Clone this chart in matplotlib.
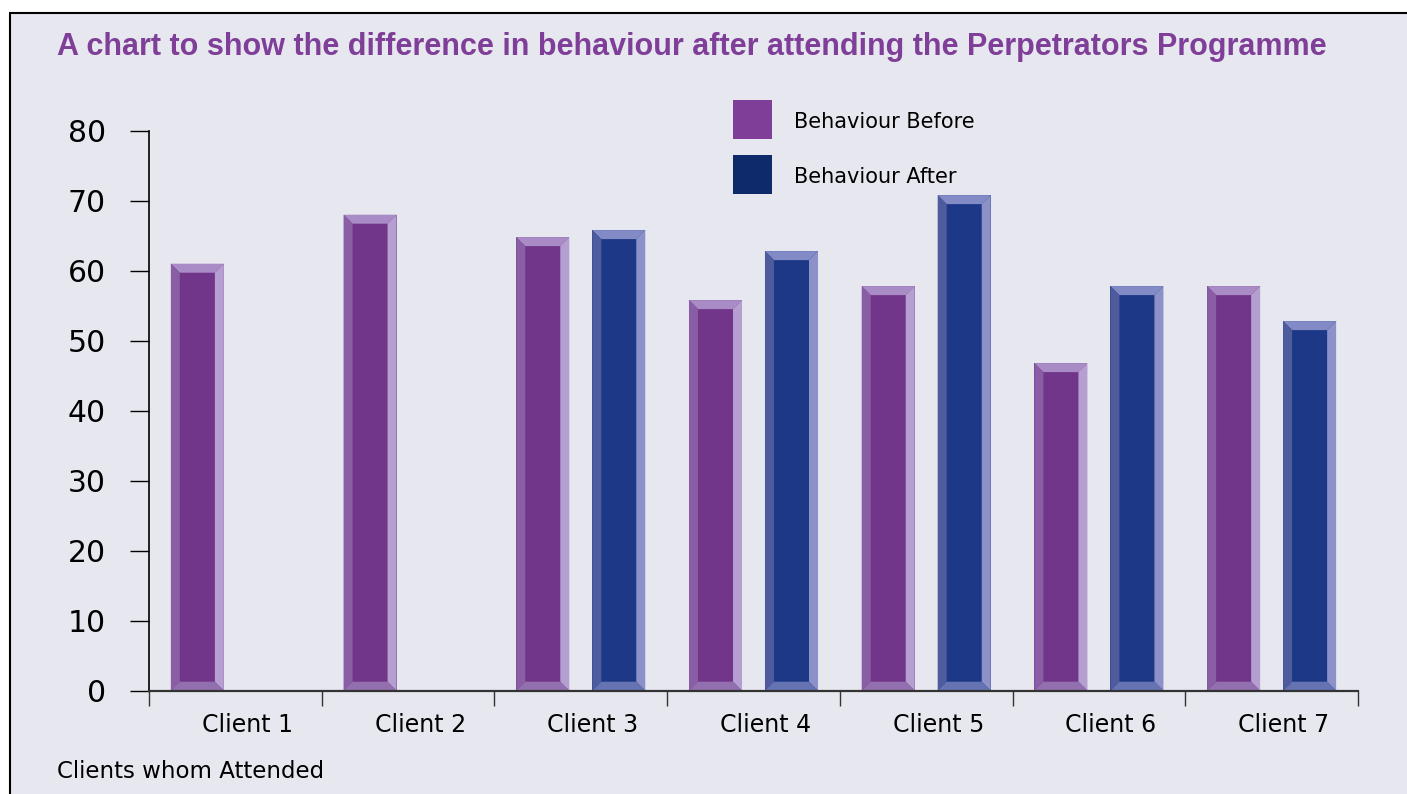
import matplotlib
matplotlib.use("Agg")
import matplotlib.pyplot as plt
from matplotlib.patches import Rectangle, Polygon
from matplotlib.transforms import ScaledTranslation
import numpy as np

clients = ["Client 1", "Client 2", "Client 3", "Client 4", "Client 5", "Client 6", "Client 7"]
before = [61, 68, 64.8, 55.8, 57.8, 46.8, 57.8]
after = [0, 0, 65.8, 62.8, 70.8, 57.8, 52.8]
yticks = [0, 10, 20, 30, 40, 50, 60, 70, 80]
title = "A chart to show the difference in behaviour after attending the Perpetrators Programme"
xlabel = "Clients whom Attended"
legend_labels = ["Behaviour Before", "Behaviour After"]
legend_colors = ["#7F3F98", "#0F2A6B"]

W, H = 1407, 794
plt.rcParams["font.family"] = ["DejaVu Sans"]
fig = plt.figure(figsize=(W / 100, H / 100), dpi=100, facecolor="white")

# background panel with border
fig.add_artist(Rectangle((10 / W, -0.05), 1.2, 1 - 13 / H + 0.05, transform=fig.transFigure,
                         facecolor="#E7E7F0", edgecolor="black", linewidth=1.5, zorder=0))

ax = fig.add_axes([149 / W, 1 - 690.7 / H, (1358 - 149) / W, (690.7 - 130.7) / H])
ax.set_facecolor("none")
ax.set_xlim(-0.5, len(clients) - 0.5)
ax.set_ylim(0, 80)

x = np.arange(len(clients))
bw = 0.307
off = 0.22

styles = {
    "before": dict(main="#71368A", top="#A98BC6", left="#8A5EA4", right="#B59ED0", bottom="#9270B0"),
    "after": dict(main="#1C3886", top="#838BC6", left="#4E5C9E", right="#8C92C9", bottom="#6673B2"),
}

bx = 9 / 172.7
by = 9 / 7.0

def draw_bars(vals, pos, st):
    bars = ax.bar(pos, vals, width=bw, color=st["main"], zorder=3, clip_on=False)
    for p, v in zip(bars.patches, vals):
        if v <= 0:
            continue
        x0 = p.get_x(); x1 = x0 + p.get_width()
        y0 = p.get_y(); y1 = y0 + p.get_height()
        polys = [
            ([(x0, y1), (x1, y1), (x1 - bx, y1 - by), (x0 + bx, y1 - by)], st["top"]),
            ([(x0, y0), (x0 + bx, y0 + by), (x0 + bx, y1 - by), (x0, y1)], st["left"]),
            ([(x1, y0), (x1, y1), (x1 - bx, y1 - by), (x1 - bx, y0 + by)], st["right"]),
            ([(x0, y0), (x1, y0), (x1 - bx, y0 + by), (x0 + bx, y0 + by)], st["bottom"]),
        ]
        for pts, c in polys:
            ax.add_patch(Polygon(pts, closed=True, facecolor=c, edgecolor="none", zorder=4, clip_on=False))

draw_bars(before, x - off, styles["before"])
draw_bars(after, x + off, styles["after"])

for s in ["top", "right"]:
    ax.spines[s].set_visible(False)
ax.spines["left"].set_color("black")
ax.spines["left"].set_linewidth(1.2)
ax.spines["bottom"].set_color("#333333")
ax.spines["bottom"].set_linewidth(1.6)
ax.spines["bottom"].set_zorder(5)

ax.set_yticks(yticks)
ax.set_yticklabels([str(v) for v in yticks], fontsize=21.5)
ax.tick_params(axis="y", length=14, width=1.0, direction="out", pad=17, colors="black")

ax.set_xticks(np.arange(len(clients) + 1) - 0.5)
ax.set_xticklabels([])
ax.tick_params(axis="x", which="major", length=11, width=1.0, direction="out", colors="#333333")
ax.set_xticks(x, minor=True)
ax.set_xticklabels(clients, minor=True, fontsize=17)
ax.tick_params(axis="x", which="minor", length=0, pad=16, labelcolor="black")
shift = ScaledTranslation(12 / 100, 0, fig.dpi_scale_trans)
for lbl in ax.get_xticklabels(minor=True):
    lbl.set_transform(lbl.get_transform() + shift)

fig.text(57 / W, 1 - 47 / H, title, fontsize=22, fontweight="bold", color="#7F3F98",
         ha="left", va="center", family="Liberation Sans")
fig.text(57 / W, 1 - 772 / H, xlabel, fontsize=16.5, color="black", ha="left", va="center")

# legend
for i, (lab, col) in enumerate(zip(legend_labels, legend_colors)):
    top = 100 + i * 55
    fig.add_artist(Rectangle((733 / W, 1 - (top + 39) / H), 39 / W, 39 / H,
                             transform=fig.transFigure, facecolor=col, edgecolor="none", zorder=5))
    fig.text(794 / W, 1 - (top + 22) / H, lab, fontsize=15, color="black", ha="left", va="center")

fig.savefig("out.png", dpi=100, facecolor="white")
